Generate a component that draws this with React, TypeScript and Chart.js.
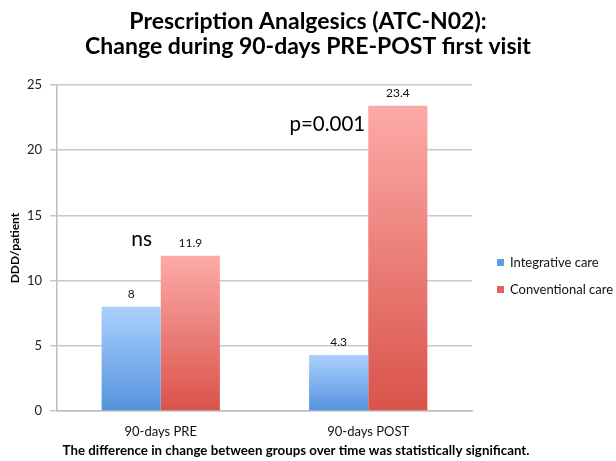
import React, { useEffect, useRef } from "react";
import { Chart, registerables } from "chart.js";

Chart.register(...registerables);

const categories = ["90-days PRE", "90-days POST"];
const seriesNames = ["Integrative care", "Conventional care"];
const integrativeValues = [8, 4.3];
const conventionalValues = [11.9, 23.4];
const titleLines = ["Prescription Analgesics (ATC-N02):", "Change during 90-days PRE-POST first visit"];
const yAxisTitle = "DDD/patient";
const footnote = "The difference in change between groups over time was statistically significant.";
const annotationTexts = ["ns", "p=0.001"];
const annotationValues = [13.15, 22.0];

const FONT = "Lato, 'Open Sans', sans-serif";
const COLORS = [
  { top: "#abd0fd", bottom: "#5393dc", swatch: "#5e9de3" },
  { top: "#fdaaa7", bottom: "#d9534a", swatch: "#e5605a" },
];

function barGradient(c: any, di: number) {
  const chart = c.chart;
  const ys = chart.scales && chart.scales.y;
  if (!chart.chartArea || !ys || c.raw === undefined) return COLORS[di].bottom;
  const top = ys.getPixelForValue(c.raw);
  const bottom = ys.getPixelForValue(0);
  const g = chart.ctx.createLinearGradient(0, top, 0, bottom);
  g.addColorStop(0, COLORS[di].top);
  g.addColorStop(1, COLORS[di].bottom);
  return g;
}

const extrasPlugin = {
  id: "extras",
  afterDatasetsDraw(chart: any) {
    const ctx = chart.ctx;
    const area = chart.chartArea;
    const ys = chart.scales.y;
    ctx.save();
    // value labels
    ctx.fillStyle = "#111";
    ctx.font = `12px ${FONT}`;
    ctx.textAlign = "center";
    ctx.textBaseline = "middle";
    chart.data.datasets.forEach((ds: any, di: number) => {
      const meta = chart.getDatasetMeta(di);
      meta.data.forEach((bar: any, i: number) => {
        ctx.fillText(String(ds.data[i]), bar.x, bar.y - 13);
      });
    });
    // annotations
    ctx.fillStyle = "#000";
    ctx.font = `21px ${FONT}`;
    const m0 = chart.getDatasetMeta(0).data[0];
    ctx.textAlign = "center";
    ctx.fillText(annotationTexts[0], m0.x + 10.5, ys.getPixelForValue(annotationValues[0]));
    const m1 = chart.getDatasetMeta(1).data[1];
    ctx.textAlign = "right";
    ctx.font = `20.5px ${FONT}`;
    ctx.fillText(annotationTexts[1], m1.x - m1.width / 2 - 3, ys.getPixelForValue(annotationValues[1]));
    // legend
    ctx.font = `13px ${FONT}`;
    ctx.textAlign = "left";
    seriesNames.forEach((name, i) => {
      const cy = area.top + 178 + i * 27;
      ctx.fillStyle = COLORS[i].swatch;
      ctx.fillRect(area.right + 25, cy - 4, 7, 7);
      ctx.fillStyle = "#111";
      ctx.fillText(name, area.right + 38, cy);
    });
    // footnote
    ctx.fillStyle = "#000";
    ctx.font = `bold 13.3px ${FONT}`;
    ctx.textAlign = "center";
    ctx.fillText(footnote, chart.width / 2 - 12, chart.height - 10);
    ctx.restore();
  },
};

export default function App() {
  const ref = useRef<HTMLCanvasElement>(null);
  useEffect(() => {
    const chart = new Chart(ref.current!, {
      type: "bar",
      data: {
        labels: categories,
        datasets: [
          {
            label: seriesNames[0],
            data: integrativeValues,
            backgroundColor: (c: any) => barGradient(c, 0),
            borderWidth: 0,
          },
          {
            label: seriesNames[1],
            data: conventionalValues,
            backgroundColor: (c: any) => barGradient(c, 1),
            borderWidth: 0,
          },
        ],
      },
      options: {
        animation: false,
        responsive: true,
        maintainAspectRatio: false,
        layout: { padding: 0 },
        datasets: { bar: { categoryPercentage: 0.57, barPercentage: 1 } },
        plugins: {
          title: {
            display: true,
            text: titleLines,
            color: "#000",
            font: { family: FONT, size: 23, weight: "bold", lineHeight: 1.05 },
            padding: { top: 10, bottom: 26.7 },
          },
          legend: { display: false },
          tooltip: { enabled: false },
        },
        scales: {
          x: {
            grid: { display: false, tickLength: 0 },
            border: { color: "#bdbdbd", width: 1.5 },
            ticks: { color: "#111", font: { family: FONT, size: 13 }, padding: 13 },
            afterFit: (s: any) => {
              s.height = 50;
            },
          },
          y: {
            min: 0,
            max: 25,
            ticks: { stepSize: 5, color: "#222", font: { family: FONT, size: 13 }, padding: 8 },
            grid: { color: "#c8c8c8", lineWidth: 1.5, tickLength: 7 },
            border: { color: "#bdbdbd", width: 1.5 },
            title: {
              display: true,
              text: yAxisTitle,
              color: "#000",
              font: { family: FONT, size: 12, weight: "bold" },
              padding: { top: 8, bottom: 0 },
            },
            afterFit: (s: any) => {
              s.width = 57;
            },
          },
          yRight: {
            position: "right",
            display: true,
            grid: { display: false },
            border: { display: false },
            ticks: { display: false },
            afterFit: (s: any) => {
              s.width = 144;
            },
          },
        },
      },
      plugins: [extrasPlugin],
    });
    return () => chart.destroy();
  }, []);
  return (
    <div style={{ position: "fixed", left: 0, top: 0, width: 616, height: 461, background: "#fff" }}>
      <canvas ref={ref} />
    </div>
  );
}
